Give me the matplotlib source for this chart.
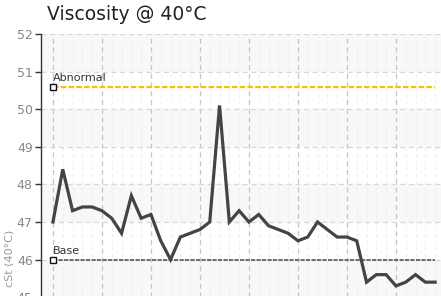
import matplotlib
matplotlib.use("Agg")
import matplotlib.pyplot as plt
import numpy as np

title = "Viscosity @ 40°C"
ylabel = "cSt (40°C)"
viscosity = [47.0, 48.4, 47.3, 47.4, 47.4, 47.3, 47.1, 46.7, 47.7, 47.1,
             47.2, 46.5, 46.0, 46.6, 46.7, 46.8, 47.0, 50.1, 47.0, 47.3,
             47.0, 47.2, 46.9, 46.8, 46.7, 46.5, 46.6, 47.0, 46.8, 46.6,
             46.6, 46.5, 45.4, 45.6, 45.6, 45.3, 45.4, 45.6, 45.4, 45.4]
abnormal_level = 50.6
base_level = 46.0
yticks = [45, 46, 47, 48, 49, 50, 51, 52]

W, H = 441, 296
fig = plt.figure(figsize=(W / 100, H / 100), dpi=100)
y_top, y_bot = 52.0, 44.5
px_per = 37.6
top_px = 34
bot_px = top_px + (y_top - y_bot) * px_per
left_px = 41
right_px = 441
ax = fig.add_axes([left_px / W, 1 - bot_px / H, (right_px - left_px) / W, (bot_px - top_px) / H])

n = len(viscosity)
x = np.arange(n)
ax.set_ylim(y_bot, y_top)
ax.set_xlim(-1.22, 39.6)

for lo in [45, 47, 49, 51]:
    ax.axhspan(lo, lo + 1, color="#f8f8f8", zorder=0, lw=0)

for xi in x:
    if xi % 5 != 0:
        ax.axvline(xi, color="#eeeeee", lw=0.8, ls=(0, (3, 3)), zorder=0.5)
for xi in range(0, n, 5):
    ax.axvline(xi, color="#c4c4c4", lw=0.9, ls=(0, (4, 3)), zorder=0.6)
for yv in yticks:
    ax.axhline(yv, color="#d8d8d8", lw=0.9, ls=(0, (4, 3)), zorder=0.6)

ax.plot(x, [abnormal_level] * n, color="#f7c300", lw=1.6, ls=(0, (2.5, 1)), zorder=2)
ax.plot(x, [base_level] * n, color="#555555", lw=1.2, ls=(0, (2.5, 0.8)), zorder=2)
ax.plot([0], [abnormal_level], marker="s", ms=4, mfc="white", mec="#111111", mew=1.0, zorder=4)
ax.plot([0], [base_level], marker="s", ms=4, mfc="white", mec="#111111", mew=1.0, zorder=4)
ax.text(0, abnormal_level + 0.1, "Abnormal", fontsize=8, color="#333333", ha="left", va="bottom", zorder=5)
ax.text(0, base_level + 0.1, "Base", fontsize=8, color="#333333", ha="left", va="bottom", zorder=5)

ax.plot(x, viscosity, color="#444444", lw=2.3, solid_joinstyle="miter", zorder=3)

ax.set_yticks(yticks)
ax.set_xticks([])
ax.tick_params(axis="y", direction="out", length=4, width=1, color="#333333",
               labelcolor="#888888", labelsize=9, pad=2)
for lab in ax.get_yticklabels():
    lab.set_family(["Liberation Sans Narrow", "DejaVu Sans"])
for s in ["top", "right", "bottom"]:
    ax.spines[s].set_visible(False)
ax.spines["left"].set_color("#333333")
ax.spines["left"].set_linewidth(1)
ax.spines["left"].set_bounds(y_bot, y_top)

fig.text(10 / W, 1 - 258 / H, ylabel, rotation=90, fontsize=8, color="#999999", ha="center", va="center",
         family=["Liberation Sans Narrow", "DejaVu Sans"])
fig.text(47 / W, 1 - 20 / H, title, fontsize=13.5, color="#222222", ha="left", va="baseline")

fig.savefig("out.png", dpi=100)
